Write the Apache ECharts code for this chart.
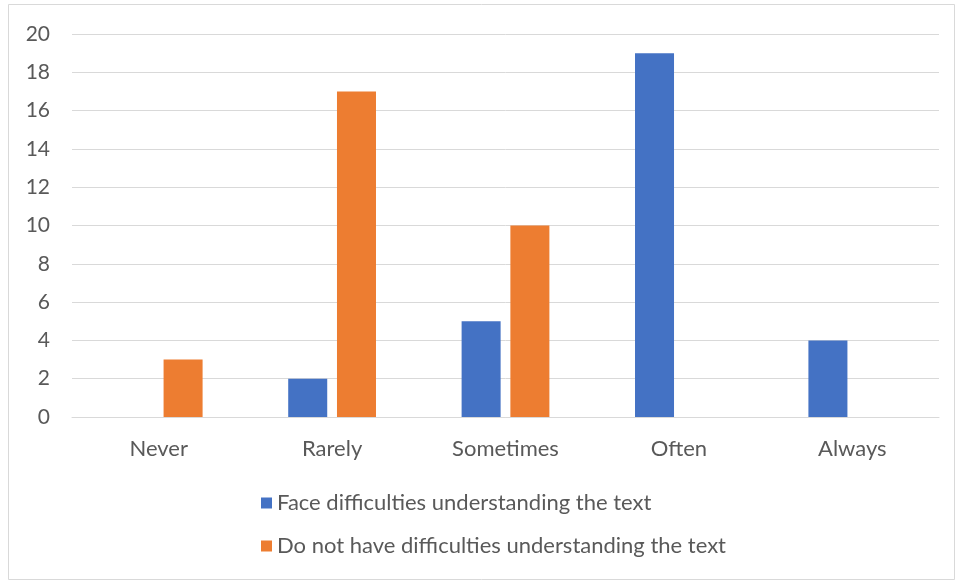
<!DOCTYPE html>
<html>
<head>
<meta charset="utf-8">
<script src="https://cdn.jsdelivr.net/npm/echarts@6/dist/echarts.min.js"></script>
<style>
  html, body { margin: 0; padding: 0; background: #fff; }
  #chart { width: 959px; height: 581px; }
</style>
</head>
<body>
<div id="chart"></div>
<script>
// Survey responses by frequency
const categories = ['Never', 'Rarely', 'Sometimes', 'Often', 'Always'];
const faceDifficulties = [0, 2, 5, 19, 4];
const noDifficulties = [3, 17, 10, 0, 0];
const seriesNames = [
  'Face difficulties understanding the text',
  'Do not have difficulties understanding the text'
];
const yTicks = { min: 0, max: 20, interval: 2 };

const FONT = 'Lato, "Open Sans", sans-serif';
const TEXT = '#595959';

const chart = echarts.init(document.getElementById('chart'), null, { renderer: 'canvas' });
chart.setOption({
  animation: false,
  backgroundColor: '#ffffff',
  graphic: [{
    type: 'rect',
    shape: { x: 8.5, y: 4.5, width: 946, height: 575 },
    style: { fill: 'none', stroke: '#d9d9d9', lineWidth: 1 },
    silent: true
  }],
  grid: { left: 72, right: 20, top: 34, bottom: 164, containLabel: false },
  legend: {
    orient: 'vertical',
    left: 256,
    top: 487,
    itemWidth: 11,
    itemHeight: 11,
    itemGap: 21,
    icon: 'rect',
    textStyle: { color: TEXT, fontFamily: FONT, fontSize: 22 },
    data: seriesNames
  },
  xAxis: {
    type: 'category',
    data: categories,
    axisLine: { lineStyle: { color: '#d9d9d9', width: 1 } },
    axisTick: { show: false },
    axisLabel: { color: TEXT, fontFamily: FONT, fontSize: 22, margin: 21 }
  },
  yAxis: {
    type: 'value',
    min: yTicks.min,
    max: yTicks.max,
    interval: yTicks.interval,
    axisLine: { show: false },
    axisTick: { show: false },
    splitLine: { lineStyle: { color: '#d9d9d9', width: 1 } },
    axisLabel: { color: TEXT, fontFamily: FONT, fontSize: 21, margin: 22 }
  },
  series: [
    {
      name: seriesNames[0],
      type: 'bar',
      data: faceDifficulties,
      barWidth: '22.5%',
      barGap: '25%',
      itemStyle: { color: '#4472c4' }
    },
    {
      name: seriesNames[1],
      type: 'bar',
      data: noDifficulties,
      barWidth: '22.5%',
      barGap: '25%',
      itemStyle: { color: '#ed7d31' }
    }
  ]
});
</script>
</body>
</html>
